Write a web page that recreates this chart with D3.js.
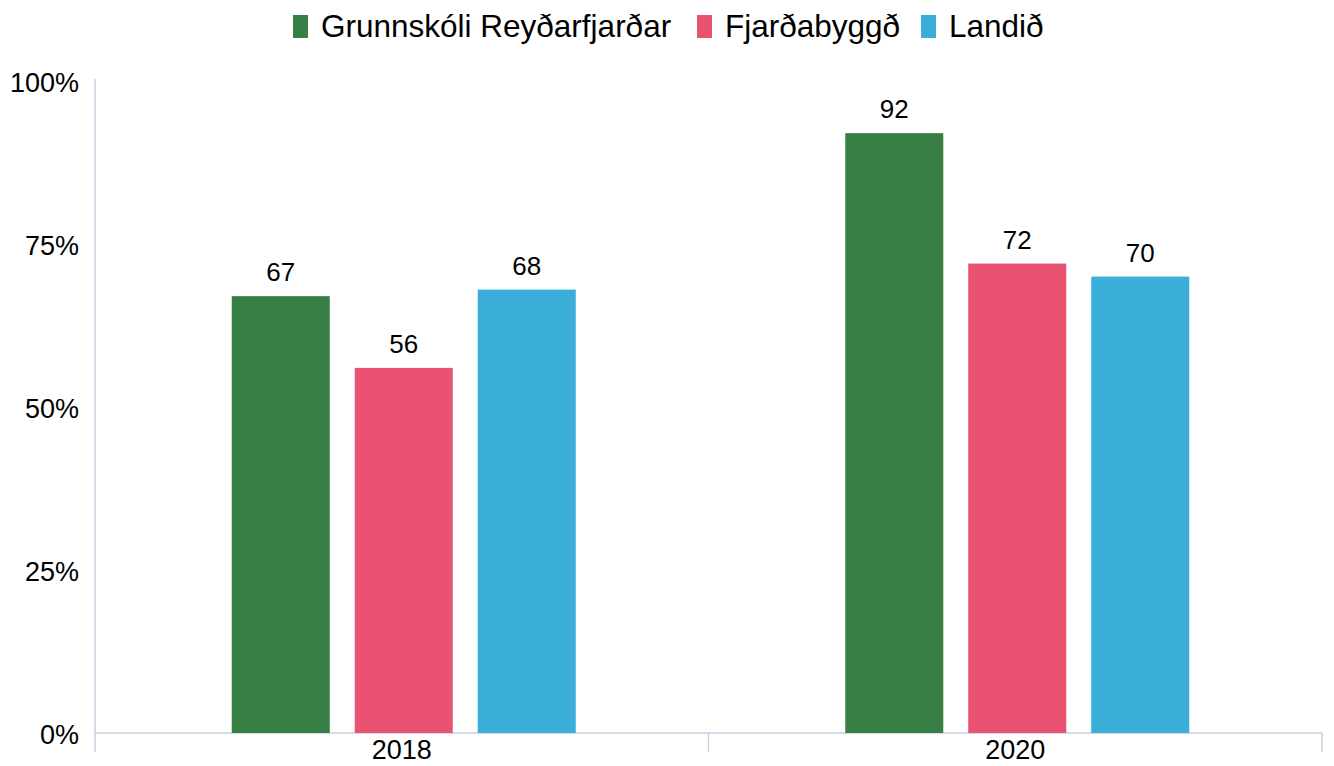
<!DOCTYPE html>
<html><head><meta charset="utf-8">
<script src="https://cdn.jsdelivr.net/npm/d3@7/dist/d3.min.js"></script>
<style>body{margin:0;background:#fff}svg{display:block;font-family:"Liberation Sans",Arial,sans-serif}</style>
</head><body><svg id="c" width="1334" height="766"></svg>
<script>
const categories = ["2018", "2020"];
const seriesNames = ["Grunnskóli Reyðarfjarðar", "Fjarðabyggð", "Landið"];
const seriesColors = ["#387F46", "#E95371", "#3BADD9"];
const values2018 = [67, 56, 68];
const values2020 = [92, 72, 70];
const yTicks = [0, 25, 50, 75, 100];

const data = [values2018, values2020];
const svg = d3.select("#c");
const plotLeft = 95, plotRight = 1322, plotTop = 81, plotBottom = 733;
const axisColor = "#C5D2E2";

const y = d3.scaleLinear().domain([0, 100]).range([plotBottom, plotTop]);
const x0 = d3.scaleBand().domain(categories).range([plotLeft, plotRight]).padding(0);
const groupW = 344;
const x1 = d3.scaleBand().domain(seriesNames).range([-groupW/2, groupW/2]).paddingInner(0.203).paddingOuter(0);

// axes lines
svg.append("line").attr("x1", plotLeft).attr("x2", plotLeft).attr("y1", plotTop - 2).attr("y2", 752)
  .attr("stroke", axisColor).attr("stroke-width", 1.5);
svg.append("line").attr("x1", plotLeft).attr("x2", plotRight).attr("y1", plotBottom).attr("y2", plotBottom)
  .attr("stroke", axisColor).attr("stroke-width", 1.5);
const bounds = categories.map(c => x0(c) + x0.bandwidth());
svg.selectAll(".xt").data(bounds).enter().append("line")
  .attr("x1", d => d).attr("x2", d => d).attr("y1", plotBottom).attr("y2", 752)
  .attr("stroke", axisColor).attr("stroke-width", 1.5);

// y tick labels
svg.selectAll(".yl").data(yTicks).enter().append("text")
  .attr("x", 79).attr("y", d => y(d)).attr("dy", "0.42em")
  .attr("text-anchor", "end").attr("font-size", 27).attr("fill", "#000")
  .text(d => d + "%");

// x labels
svg.selectAll(".xl").data(categories).enter().append("text")
  .attr("x", d => x0(d) + x0.bandwidth()/2).attr("y", 759)
  .attr("text-anchor", "middle").attr("font-size", 27).attr("fill", "#000")
  .text(d => d);

// bars
const groups = svg.selectAll(".g").data(categories).enter().append("g")
  .attr("transform", d => `translate(${x0(d) + x0.bandwidth()/2 + 2},0)`);
groups.each(function(c, ci) {
  const g = d3.select(this);
  const vals = data[ci].map((v, i) => ({name: seriesNames[i], v, color: seriesColors[i]}));
  g.selectAll("rect").data(vals).enter().append("rect")
    .attr("x", d => x1(d.name)).attr("width", x1.bandwidth())
    .attr("y", d => y(d.v)).attr("height", d => plotBottom - y(d.v))
    .attr("fill", d => d.color);
  g.selectAll("text").data(vals).enter().append("text")
    .attr("x", d => x1(d.name) + x1.bandwidth()/2).attr("y", d => y(d.v) - 15)
    .attr("text-anchor", "middle").attr("font-size", 26).attr("fill", "#000")
    .text(d => d.v);
});

// legend
const legendX = [293, 697, 921];
const lg = svg.selectAll(".lg").data(seriesNames).enter().append("g")
  .attr("transform", (d, i) => `translate(${legendX[i]},0)`);
lg.append("rect").attr("x", 0).attr("y", 15).attr("width", 15).attr("height", 23)
  .attr("fill", (d, i) => seriesColors[i]);
lg.append("text").attr("x", 28).attr("y", 37).attr("font-size", 31.5).attr("fill", "#000")
  .text(d => d);
</script></body></html>
